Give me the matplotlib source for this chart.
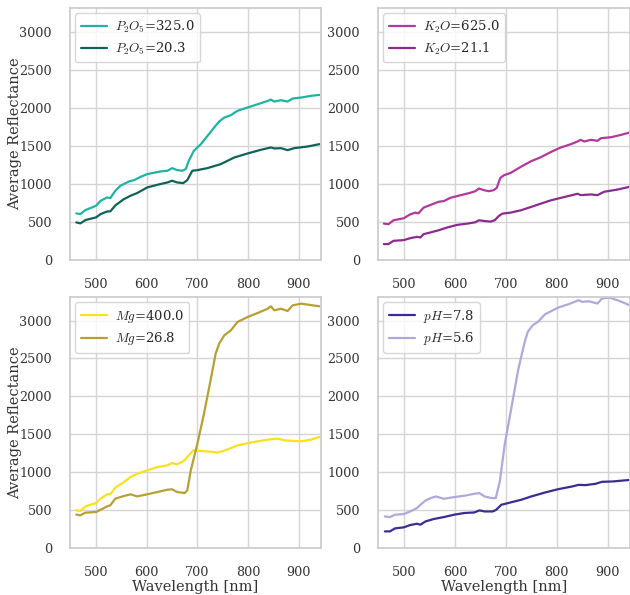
import matplotlib
matplotlib.use('Agg')
import matplotlib.pyplot as plt
import seaborn as sns

sns.set_theme(style='whitegrid')
plt.rcParams['font.family'] = ['DejaVu Serif']
plt.rcParams['mathtext.fontset'] = 'cm'

# ---- data (wavelength [nm], reflectance) ----
wl_p_hi = [461, 469, 479, 489, 500, 509, 522, 528, 538, 548, 565, 575, 588, 601, 614, 627, 641, 650, 660, 670, 677,
           683, 693, 707, 720, 733, 743, 753, 766, 779, 799, 819, 839, 845, 852, 865, 878, 888, 905, 924, 941]
p_hi = [612, 603, 656, 682, 713, 778, 822, 813, 909, 975, 1032, 1049, 1093, 1128, 1146, 1163, 1172, 1207, 1181, 1172,
        1194, 1303, 1434, 1522, 1631, 1740, 1819, 1871, 1902, 1959, 2003, 2046, 2090, 2107, 2081, 2099, 2081, 2121,
        2134, 2156, 2169]
wl_p_lo = [461, 469, 479, 500, 509, 522, 528, 538, 555, 568, 581, 601, 621, 641, 650, 660, 672, 680, 690, 700, 720,
           746, 773, 799, 825, 845, 852, 865, 878, 891, 918, 941]
p_lo = [494, 481, 525, 560, 603, 638, 638, 717, 800, 844, 879, 953, 988, 1019, 1041, 1019, 1010, 1049, 1172, 1181,
        1207, 1259, 1347, 1399, 1447, 1478, 1465, 1469, 1443, 1469, 1491, 1522]

wl_k_hi = [460, 469, 479, 499, 512, 522, 528, 538, 551, 568, 578, 591, 604, 617, 630, 640, 647, 657, 666, 676, 682,
           689, 696, 709, 729, 749, 768, 788, 808, 828, 841, 847, 854, 867, 880, 887, 907, 926, 943]
k_hi = [478, 470, 522, 548, 600, 622, 613, 687, 722, 765, 774, 817, 839, 861, 883, 904, 939, 917, 904, 917, 948, 1078,
        1113, 1143, 1222, 1296, 1348, 1417, 1478, 1522, 1557, 1578, 1557, 1578, 1565, 1600, 1613, 1643, 1674]
wl_k_lo = [460, 469, 479, 499, 512, 525, 532, 538, 551, 568, 584, 604, 624, 640, 647, 657, 670, 678, 686, 693, 709,
           729, 749, 768, 788, 814, 841, 847, 867, 880, 893, 920, 943]
k_lo = [209, 209, 252, 261, 287, 304, 296, 339, 361, 391, 426, 461, 478, 496, 522, 513, 504, 522, 578, 609, 622, 652,
        696, 739, 783, 826, 870, 852, 861, 852, 896, 926, 961]

wl_mg_hi = [461, 469, 479, 500, 509, 522, 528, 538, 555, 568, 581, 601, 621, 641, 650, 660, 673, 683, 692, 707, 733,
            739, 759, 779, 812, 839, 858, 872, 891, 905, 924, 941]
mg_hi = [497, 488, 549, 593, 651, 708, 708, 796, 870, 936, 980, 1024, 1068, 1090, 1121, 1103, 1147, 1222, 1288, 1279,
         1266, 1257, 1297, 1354, 1398, 1429, 1442, 1420, 1411, 1407, 1429, 1464]
wl_mg_lo = [461, 469, 479, 500, 509, 522, 528, 538, 555, 568, 581, 601, 621, 641, 650, 660, 675, 680, 687, 700, 713,
            726, 736, 743, 753, 766, 779, 799, 819, 839, 845, 852, 865, 878, 888, 905, 924, 941]
mg_lo = [440, 431, 466, 475, 505, 549, 563, 651, 686, 708, 681, 708, 738, 769, 774, 738, 725, 760, 1024, 1376, 1771,
         2211, 2563, 2695, 2804, 2870, 2980, 3046, 3099, 3156, 3187, 3134, 3156, 3125, 3200, 3222, 3204, 3187]

wl_ph_hi = [462, 472, 482, 499, 512, 525, 532, 542, 558, 578, 598, 618, 638, 648, 658, 674, 681, 691, 704, 730, 750,
            777, 803, 830, 843, 856, 876, 889, 909, 946]
ph_hi = [219, 219, 259, 272, 303, 320, 307, 351, 382, 408, 439, 461, 469, 496, 482, 482, 504, 570, 592, 636, 680, 732,
         776, 811, 833, 829, 846, 873, 877, 899]
wl_ph_lo = [462, 472, 482, 499, 512, 525, 532, 542, 552, 562, 578, 598, 618, 638, 648, 658, 672, 680, 688, 698, 710,
            724, 737, 743, 753, 763, 777, 790, 803, 823, 843, 850, 863, 880, 889, 903, 923, 943]
ph_lo = [417, 408, 439, 447, 482, 526, 570, 627, 658, 680, 649, 671, 689, 715, 724, 680, 658, 658, 877, 1382, 1820,
         2346, 2719, 2851, 2939, 2982, 3083, 3127, 3171, 3215, 3268, 3246, 3254, 3224, 3289, 3303, 3259, 3202]

panels = [
    [(wl_p_hi, p_hi, '$P_2O_5$=325.0', '#1fb3a1'), (wl_p_lo, p_lo, '$P_2O_5$=20.3', '#0f6358')],
    [(wl_k_hi, k_hi, '$K_2O$=625.0', '#b2389c'), (wl_k_lo, k_lo, '$K_2O$=21.1', '#8b2c8c')],
    [(wl_mg_hi, mg_hi, '$Mg$=400.0', '#f8e11f'), (wl_mg_lo, mg_lo, '$Mg$=26.8', '#b6a034')],
    [(wl_ph_hi, ph_hi, '$pH$=7.8', '#3a2c95'), (wl_ph_lo, ph_lo, '$pH$=5.6', '#b0a8db')],
]

fig = plt.figure(figsize=(6.3, 5.95), dpi=100)
W, H = 630.0, 595.0
boxes = [(70, 8, 321, 260), (378, 8, 630, 260), (70, 297, 321, 548), (378, 297, 630, 548)]

for i, (series, (l, t, r, b)) in enumerate(zip(panels, boxes)):
    ax = fig.add_axes([l / W, 1 - b / H, (r - l) / W, (b - t) / H])
    for wl, val, lab, col in series:
        ax.plot(wl, val, color=col, lw=1.6, label=lab)
    ax.set_xlim(448.5, 944)
    ax.set_ylim(0, 3310)
    ax.set_xticks([500, 600, 700, 800, 900])
    ax.tick_params(labelsize=9.2, colors='#333333', pad=7)
    ax.set_yticks([0, 500, 1000, 1500, 2000, 2500, 3000])
    for s in ax.spines.values():
        s.set_color('#cccccc')
    ax.grid(color='#d5d5d5', lw=1)
    leg = ax.legend(loc='upper left', fontsize=9.5, frameon=True, borderaxespad=0.4,
                    handlelength=2.0, handletextpad=0.6, labelspacing=0.45, borderpad=0.4)
    leg.get_frame().set_edgecolor('#cccccc')
    if i % 2 == 0:
        ax.set_ylabel('Average Reflectance', fontsize=10.5, color='#333333')
        ax.yaxis.set_label_coords(-0.19, 0.5)
    if i >= 2:
        ax.set_xlabel('Wavelength [nm]', fontsize=10.5, color='#333333', labelpad=1)

fig.savefig('out.png', dpi=100)
